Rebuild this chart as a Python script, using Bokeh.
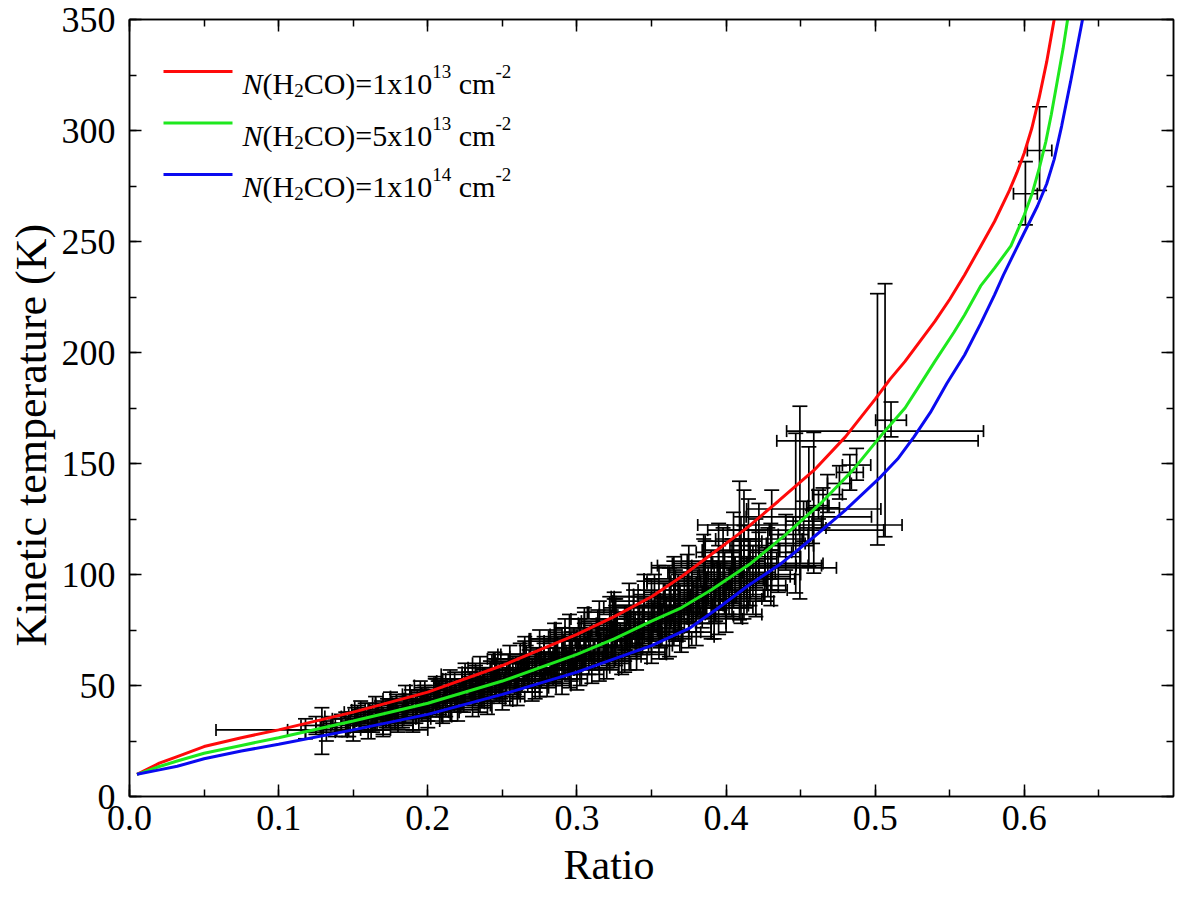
from bokeh.plotting import figure
from bokeh.models import (ColumnDataSource, Range1d, LinearAxis, SingleIntervalTicker,
                          PrintfTickFormatter, CustomJSTickFormatter, Whisker, TeeHead,
                          Label, BoxAnnotation, Title)
from bokeh.embed import file_html
from bokeh.resources import INLINE

FONT = "Liberation Serif"

# model curves (ratio -> kinetic temperature), three H2CO column densities
red_ratio = [0.005, 0.02, 0.032, 0.05, 0.075, 0.1, 0.15, 0.2, 0.25, 0.3, 0.325, 0.35, 0.37,
             0.39, 0.414, 0.435, 0.459, 0.48, 0.50, 0.51, 0.52, 0.53, 0.54, 0.55, 0.56,
             0.57, 0.58, 0.59, 0.595, 0.60, 0.605, 0.61, 0.615, 0.62]
red_temp = [10, 15, 18, 22.5, 26.5, 30, 38, 47, 59, 73, 81, 90, 99,
            109, 121, 133, 147, 162, 179, 188, 196, 205, 214, 224, 235,
            247, 259, 273, 281, 290, 301, 315, 331, 350]

green_ratio = [0.005, 0.02, 0.032, 0.05, 0.075, 0.1, 0.15, 0.2, 0.25, 0.3, 0.325, 0.35, 0.37,
               0.39, 0.4165, 0.44, 0.4634, 0.485, 0.5057, 0.52, 0.5305, 0.54, 0.5527, 0.56,
               0.5707, 0.58, 0.591, 0.60, 0.6054, 0.61, 0.6144, 0.618, 0.622, 0.626, 0.629]
green_temp = [10, 13.5, 16, 19.5, 23, 26.5, 34, 42, 52, 64, 71, 79, 85,
              93, 105, 118, 132, 147, 164, 175, 186, 196, 209, 217,
              230, 238, 248, 262, 272, 283, 295, 307, 322, 337, 350]

blue_ratio = [0.005, 0.02, 0.032, 0.05, 0.075, 0.1, 0.15, 0.2, 0.25, 0.3, 0.325, 0.35, 0.376,
              0.395, 0.414, 0.437, 0.459, 0.48, 0.5037, 0.515, 0.526, 0.537, 0.548, 0.56,
              0.5707, 0.58, 0.586, 0.597, 0.6088, 0.615, 0.62, 0.625, 0.631, 0.635, 0.639]
blue_temp = [10, 12, 13.6, 17, 20.5, 23.5, 30, 37, 46, 56, 62, 68, 76,
             85, 94.6, 105, 117, 129, 144, 152, 162, 173, 186, 199,
             213, 226, 235, 250, 266, 276, 287, 302, 322, 336, 350]

# observed ratios with errors and the derived temperatures (lower / upper bounds)
pt_ratio = [0.129, 0.118, 0.125, 0.132, 0.138, 0.142, 0.147, 0.151, 0.155, 0.158, 0.162,
            0.166, 0.169, 0.172, 0.176, 0.179, 0.183, 0.186, 0.189, 0.192, 0.195, 0.198,
            0.201, 0.204, 0.207, 0.210, 0.213, 0.216, 0.219, 0.222, 0.225, 0.228, 0.231,
            0.234, 0.237, 0.240, 0.243, 0.246, 0.249, 0.252, 0.255, 0.258, 0.261, 0.264,
            0.267, 0.270, 0.273, 0.276, 0.279, 0.282, 0.285, 0.288, 0.291, 0.294, 0.297,
            0.300, 0.303, 0.306, 0.309, 0.312, 0.315, 0.318, 0.321, 0.324, 0.327, 0.330,
            0.333, 0.336, 0.339, 0.342, 0.345, 0.348, 0.351, 0.354, 0.357, 0.360, 0.363,
            0.366, 0.369, 0.372, 0.375, 0.378, 0.381, 0.384, 0.387, 0.390, 0.393, 0.396,
            0.399, 0.402, 0.406, 0.410, 0.414, 0.418, 0.422, 0.426, 0.430, 0.435, 0.440,
            0.145, 0.160, 0.170, 0.174, 0.185, 0.190, 0.196, 0.208, 0.218, 0.229, 0.238,
            0.248, 0.259, 0.268, 0.278, 0.287, 0.296, 0.305, 0.314, 0.323, 0.332, 0.341,
            0.350, 0.359, 0.368, 0.377, 0.386, 0.395, 0.404, 0.412, 0.420,
            0.150, 0.160, 0.170, 0.180, 0.190, 0.200, 0.210, 0.220, 0.230, 0.240, 0.250,
            0.260, 0.270, 0.280, 0.290, 0.300, 0.310, 0.320, 0.330, 0.340, 0.350, 0.360,
            0.370, 0.380, 0.390, 0.400, 0.410, 0.420, 0.430,
            0.155, 0.165, 0.175, 0.185, 0.195, 0.205, 0.215, 0.225, 0.235, 0.245, 0.255,
            0.265, 0.275, 0.285, 0.295, 0.305, 0.315, 0.325, 0.335, 0.345, 0.355, 0.365,
            0.375, 0.385, 0.395, 0.405, 0.415,
            0.205, 0.215, 0.225, 0.235, 0.245, 0.255, 0.265, 0.275, 0.285, 0.295, 0.305,
            0.315, 0.325, 0.335, 0.345, 0.355, 0.365, 0.375, 0.385, 0.395,
            0.183, 0.193, 0.173, 0.163, 0.153, 0.232, 0.262, 0.292, 0.322, 0.352,
            0.272, 0.302, 0.332, 0.362, 0.392,
            0.200, 0.206, 0.212, 0.218, 0.224, 0.230, 0.236, 0.242, 0.248, 0.254, 0.260,
            0.266, 0.272, 0.278, 0.284, 0.290, 0.296, 0.302, 0.308, 0.314, 0.320, 0.326,
            0.332, 0.338, 0.344, 0.350, 0.356, 0.362, 0.368, 0.374, 0.380, 0.386, 0.392,
            0.398, 0.404, 0.410, 0.416, 0.422, 0.428, 0.190, 0.180, 0.170, 0.160,
            0.246, 0.286, 0.326, 0.366,
            0.445, 0.452, 0.458, 0.462, 0.465, 0.468, 0.476, 0.483, 0.4875,
            0.4306, 0.409, 0.412, 0.4467, 0.4495, 0.4555, 0.4588,
            0.5015, 0.5066, 0.5106, 0.6007, 0.6102]
pt_ratio_err = [0.071, 0.012, 0.010, 0.014, 0.010, 0.012, 0.008, 0.015, 0.009, 0.011, 0.010,
                0.013, 0.008, 0.012, 0.010, 0.014, 0.009, 0.012, 0.010, 0.016, 0.011, 0.013,
                0.009, 0.012, 0.010, 0.014, 0.011, 0.009, 0.012, 0.015, 0.010, 0.013, 0.011,
                0.009, 0.014, 0.012, 0.010, 0.013, 0.011, 0.015, 0.010, 0.012, 0.009, 0.014,
                0.011, 0.013, 0.010, 0.016, 0.012, 0.010, 0.013, 0.011, 0.015, 0.010, 0.012,
                0.014, 0.011, 0.013, 0.010, 0.012, 0.015, 0.011, 0.013, 0.010, 0.014, 0.012,
                0.011, 0.016, 0.010, 0.013, 0.011, 0.014, 0.012, 0.010, 0.015, 0.012, 0.011,
                0.014, 0.012, 0.016, 0.011, 0.013, 0.012, 0.015, 0.011, 0.013, 0.012, 0.018,
                0.011, 0.014, 0.012, 0.016, 0.013, 0.015, 0.012, 0.017, 0.014, 0.020, 0.013,
                0.020, 0.018, 0.020, 0.022, 0.018, 0.018, 0.020, 0.024, 0.019, 0.021, 0.025,
                0.020, 0.022, 0.026, 0.021, 0.024, 0.022, 0.027, 0.023, 0.025, 0.022, 0.028,
                0.024, 0.026, 0.030, 0.025, 0.028, 0.032, 0.027, 0.035, 0.030,
                0.012, 0.015, 0.010, 0.014, 0.012, 0.016, 0.011, 0.014, 0.012, 0.017, 0.012,
                0.015, 0.011, 0.016, 0.013, 0.018, 0.012, 0.016, 0.013, 0.019, 0.014, 0.017,
                0.013, 0.020, 0.015, 0.018, 0.014, 0.021, 0.016,
                0.011, 0.014, 0.010, 0.015, 0.012, 0.017, 0.011, 0.015, 0.012, 0.018, 0.012,
                0.016, 0.011, 0.017, 0.013, 0.019, 0.012, 0.017, 0.013, 0.020, 0.014, 0.018,
                0.013, 0.021, 0.015, 0.019, 0.014,
                0.030, 0.028, 0.034, 0.030, 0.036, 0.031, 0.035, 0.032, 0.038, 0.033, 0.036,
                0.032, 0.040, 0.034, 0.038, 0.035, 0.042, 0.036, 0.040, 0.037,
                0.026, 0.030, 0.024, 0.027, 0.022, 0.020, 0.022, 0.024, 0.026, 0.028,
                0.024, 0.026, 0.028, 0.030, 0.032,
                0.022, 0.018, 0.026, 0.020, 0.028, 0.021, 0.025, 0.019, 0.027, 0.022, 0.030,
                0.020, 0.028, 0.023, 0.031, 0.021, 0.029, 0.024, 0.032, 0.022, 0.030, 0.025,
                0.033, 0.023, 0.031, 0.026, 0.034, 0.024, 0.032, 0.027, 0.035, 0.025, 0.033,
                0.028, 0.036, 0.026, 0.034, 0.029, 0.037, 0.024, 0.020, 0.022, 0.018,
                0.040, 0.042, 0.045, 0.048,
                0.010, 0.012, 0.009, 0.007, 0.011, 0.010, 0.008, 0.009, 0.0095,
                0.028, 0.055, 0.062, 0.059, 0.0685, 0.042, 0.045,
                0.0675, 0.066, 0.0103, 0.008, 0.0082]
pt_temp = [30, 30, 32, 29, 31, 33, 30, 35, 33, 37, 34,
           36, 39, 35, 38, 41, 37, 40, 43, 38, 41, 44,
           40, 43, 46, 41, 44, 48, 45, 43, 47, 50, 46,
           49, 52, 47, 50, 54, 49, 52, 56, 51, 54, 58,
           53, 56, 60, 55, 58, 62, 57, 60, 65, 59, 63,
           67, 61, 65, 70, 63, 68, 72, 66, 70, 75, 68,
           73, 77, 71, 75, 80, 73, 78, 82, 76, 81, 86,
           79, 84, 89, 82, 87, 92, 85, 91, 95, 88, 94,
           99, 92, 97, 103, 96, 101, 107, 99, 110, 104, 114,
           32, 36, 32, 37, 39, 34, 42, 44, 46, 48, 50,
           52, 55, 57, 60, 62, 64, 67, 70, 73, 75, 78,
           80, 83, 86, 89, 93, 97, 100, 104, 108,
           29, 30, 32, 33, 35, 36, 38, 39, 41, 43, 45,
           47, 49, 51, 53, 55, 58, 60, 63, 65, 68, 71,
           74, 78, 81, 85, 89, 93, 98,
           38, 40, 42, 44, 46, 48, 51, 53, 56, 58, 61,
           64, 67, 70, 73, 76, 79, 83, 86, 90, 93, 97,
           101, 105, 110, 115, 120,
           45, 40, 50, 45, 55, 49, 60, 53, 64, 58, 71,
           62, 76, 68, 83, 74, 90, 80, 98, 88,
           36, 42, 39, 33, 36, 53, 62, 71, 80, 88,
           50, 57, 64, 72, 82,
           40, 47, 42, 49, 44, 51, 47, 54, 49, 57, 52,
           60, 55, 63, 58, 67, 61, 70, 64, 74, 67, 78,
           71, 82, 75, 86, 78, 91, 82, 96, 86, 101, 91,
           106, 95, 111, 100, 116, 105, 38, 36, 35, 33,
           52, 62, 72, 85,
           118, 124, 121, 131, 130, 136, 141, 146, 149.3,
           113, 104, 103, 120, 122.3, 126, 129.5,
           160.2, 164.6, 169.5, 271.5, 291]
pt_temp_lo = [19, 26, 28, 25, 27, 29, 27, 30, 29, 33, 30,
              32, 35, 31, 34, 36, 33, 35, 39, 33, 36, 39,
              36, 38, 41, 36, 39, 43, 40, 38, 42, 45, 41,
              44, 46, 42, 45, 48, 44, 46, 50, 46, 49, 52,
              47, 50, 54, 49, 52, 56, 51, 54, 58, 53, 56,
              60, 55, 58, 63, 57, 61, 65, 59, 63, 67, 61,
              66, 69, 64, 67, 72, 65, 70, 74, 68, 73, 77,
              71, 75, 80, 74, 78, 83, 76, 82, 85, 79, 84,
              89, 82, 87, 92, 86, 90, 96, 88, 98, 92, 102,
              27, 31, 27, 31, 33, 29, 36, 37, 40, 42, 43,
              45, 48, 49, 52, 54, 56, 58, 61, 63, 66, 68,
              70, 72, 74, 78, 81, 84, 87, 90, 94,
              25, 26, 28, 29, 30, 31, 33, 34, 36, 37, 39,
              41, 43, 45, 46, 48, 51, 53, 55, 57, 60, 62,
              65, 68, 71, 74, 78, 81, 86,
              34, 35, 37, 39, 41, 42, 45, 47, 50, 51, 54,
              57, 59, 62, 65, 67, 70, 73, 76, 80, 83, 86,
              90, 93, 97, 102, 106,
              38, 34, 42, 38, 46, 41, 50, 45, 53, 49, 59,
              52, 63, 57, 69, 62, 74, 67, 81, 73,
              31, 36, 34, 29, 32, 47, 55, 63, 70, 77,
              44, 50, 56, 63, 71,
              34, 41, 36, 43, 38, 45, 40, 47, 42, 50, 44,
              52, 47, 55, 50, 58, 52, 61, 55, 64, 58, 68,
              61, 71, 64, 74, 67, 79, 70, 83, 74, 87, 78,
              91, 81, 96, 86, 100, 90, 33, 31, 30, 29,
              43, 51, 59, 70,
              110, 115, 114, 125, 121, 128, 134, 138, 142.5,
              93, 79.6, 80, 91.7, 89, 103.5, 100.6,
              113.3, 117, 162, 257.5, 273]
pt_temp_hi = [40, 35, 36, 34, 35, 37, 34, 40, 37, 42, 38,
              41, 43, 39, 43, 46, 41, 45, 48, 43, 46, 50,
              45, 48, 52, 46, 49, 53, 50, 49, 52, 56, 51,
              54, 58, 53, 56, 60, 55, 58, 62, 57, 60, 64,
              59, 62, 67, 61, 65, 69, 63, 67, 72, 66, 70,
              75, 68, 72, 77, 70, 76, 80, 73, 78, 83, 76,
              81, 86, 79, 83, 89, 81, 87, 91, 85, 90, 95,
              88, 93, 99, 91, 97, 102, 95, 101, 106, 98, 105,
              110, 103, 108, 115, 108, 113, 119, 112, 123, 118, 127,
              38, 42, 37, 44, 46, 39, 49, 52, 53, 56, 58,
              60, 63, 66, 69, 72, 74, 78, 80, 84, 86, 90,
              92, 96, 100, 103, 108, 113, 116, 122, 125,
              33, 35, 36, 38, 40, 41, 43, 45, 47, 49, 51,
              53, 55, 58, 60, 62, 65, 68, 71, 74, 77, 80,
              84, 88, 92, 96, 101, 106, 111,
              43, 45, 47, 50, 52, 54, 57, 60, 63, 65, 68,
              72, 75, 78, 82, 85, 88, 92, 96, 100, 104, 108,
              113, 118, 123, 128, 134,
              53, 47, 58, 53, 64, 57, 70, 62, 75, 68, 83,
              73, 89, 80, 97, 87, 106, 95, 116, 104,
              42, 48, 44, 38, 41, 59, 69, 80, 90, 100,
              57, 65, 73, 82, 94,
              46, 53, 49, 56, 51, 58, 54, 61, 57, 64, 60,
              68, 63, 72, 67, 76, 70, 80, 74, 84, 77, 89,
              82, 93, 86, 98, 90, 103, 95, 109, 99, 115, 105,
              121, 110, 126, 116, 132, 121, 44, 41, 40, 38,
              62, 74, 86, 102,
              126, 133, 129, 138, 139, 145, 149, 154, 156.8,
              138, 142, 138, 163.6, 175.8, 157.5, 164,
              226.5, 231, 177.7, 286, 310.7]

src = ColumnDataSource(dict(
    ratio=pt_ratio,
    temp=pt_temp,
    r_lo=[r - e for r, e in zip(pt_ratio, pt_ratio_err)],
    r_hi=[r + e for r, e in zip(pt_ratio, pt_ratio_err)],
    t_lo=pt_temp_lo,
    t_hi=pt_temp_hi,
))

p = figure(width=1184, height=895, x_range=Range1d(0, 0.7), y_range=Range1d(0, 350),
           output_backend="svg", toolbar_location=None,
           min_border_left=129, min_border_right=11, min_border_top=19, min_border_bottom=98)
p.xgrid.grid_line_color = None
p.ygrid.grid_line_color = None
p.background_fill_color = "white"
p.border_fill_color = "white"
p.outline_line_color = "black"
p.outline_line_width = 1.5

bar_color = "#000000"
bar_w = 1.7
p.add_layout(Whisker(source=src, base="ratio", lower="t_lo", upper="t_hi", dimension="height",
                     line_color=bar_color, line_width=bar_w, level="underlay",
                     upper_head=TeeHead(size=15, line_color=bar_color, line_width=bar_w),
                     lower_head=TeeHead(size=15, line_color=bar_color, line_width=bar_w)))
p.add_layout(Whisker(source=src, base="temp", lower="r_lo", upper="r_hi", dimension="width",
                     line_color=bar_color, line_width=bar_w, level="underlay",
                     upper_head=TeeHead(size=12, line_color=bar_color, line_width=bar_w),
                     lower_head=TeeHead(size=12, line_color=bar_color, line_width=bar_w)))

RED, GREEN, BLUE = "#ff0a0a", "#1ee81e", "#0a0af0"
p.line(red_ratio, red_temp, line_color=RED, line_width=3)
p.line(green_ratio, green_temp, line_color=GREEN, line_width=3)
p.line(blue_ratio, blue_temp, line_color=BLUE, line_width=3)

xt = SingleIntervalTicker(interval=0.1, num_minor_ticks=2)
yt = SingleIntervalTicker(interval=50, num_minor_ticks=2)


def style_axis(ax, labels=True):
    ax.axis_line_color = "black"
    ax.axis_line_width = 1.5
    ax.major_tick_in = 12
    ax.major_tick_out = 0
    ax.minor_tick_in = 7
    ax.minor_tick_out = 0
    ax.major_tick_line_width = 1.5
    ax.minor_tick_line_width = 1.5
    if labels:
        ax.major_label_text_font = FONT
        ax.major_label_text_font_size = "36px"
        ax.major_label_text_color = "black"
    else:
        ax.formatter = CustomJSTickFormatter(code="return ''")
        ax.major_label_standoff = 0


p.xaxis.ticker = xt
p.yaxis.ticker = yt
style_axis(p.xaxis[0])
style_axis(p.yaxis[0])
p.xaxis.formatter = PrintfTickFormatter(format="%.1f")
p.xaxis.major_label_standoff = 9
p.yaxis.major_label_standoff = 14

top = LinearAxis(ticker=xt)
right = LinearAxis(ticker=yt)
style_axis(top, labels=False)
style_axis(right, labels=False)
p.add_layout(top, "above")
p.add_layout(right, "right")

# axis titles as side-panel titles so they can sit off-centre like the original
p.add_layout(Title(text="Ratio", align="left", offset=434, standoff=15,
                   text_font=FONT, text_font_size="42px", text_font_style="normal",
                   text_color="black"), "below")
p.add_layout(Title(text="Kinetic temperature (K)", align="left", offset=150, standoff=6,
                   text_font=FONT, text_font_size="44px", text_font_style="normal",
                   text_color="black"), "left")

# legend built from text pieces so the italic N, subscript and superscripts show
ADV = {"N": 0.667, "(": 0.333, ")": 0.333, "H": 0.722, "C": 0.667, "O": 0.722, "=": 0.564,
       "x": 0.5, "c": 0.444, "m": 0.778, "-": 0.333, " ": 0.25}


def width_of(s, size):
    return sum(ADV.get(ch, 0.5) for ch in s) * size


legend_labels = [("13", "1x10", RED), ("13", "5x10", GREEN), ("14", "1x10", BLUE)]
frame_h = 778
for i, (expo, mant, col) in enumerate(legend_labels):
    yc = frame_h - (53 + i * 51.5)
    p.add_layout(BoxAnnotation(left=34, right=103, bottom=yc - 1.5, top=yc + 1.5,
                               left_units="screen", right_units="screen",
                               top_units="screen", bottom_units="screen",
                               fill_color=col, fill_alpha=1, line_color=None))
    base = yc - 12
    pieces = [("N", 30, "italic", 0), ("(H", 30, "normal", 0), ("2", 19, "normal", -7),
              ("CO)=" + mant, 30, "normal", 0), (expo, 19, "normal", 12),
              (" ", 30, "normal", None), ("cm", 30, "normal", 0), ("-2", 19, "normal", 12)]
    x = 113
    for txt, size, style, dy in pieces:
        if dy is not None:
            p.add_layout(Label(x=x, y=base + dy, x_units="screen", y_units="screen", text=txt,
                               text_font=FONT, text_font_size=f"{size}px", text_font_style=style,
                               text_color="black", text_baseline="alphabetic", text_align="left"))
        x += width_of(txt, size)

open("out.html", "w").write(file_html(p, INLINE))
